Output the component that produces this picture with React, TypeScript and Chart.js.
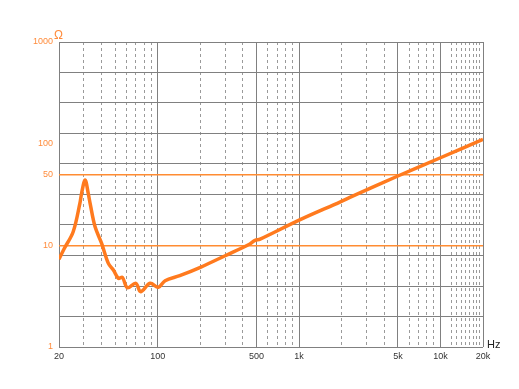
import { useEffect, useRef } from 'react';
import { Chart, registerables } from 'chart.js';

Chart.register(...registerables);

// Impedance curve (Hz, Ω)
const freqHz = [20, 21.8, 25.2, 28.1, 28.9, 30.6, 32.2, 33.2, 36, 40, 44.7, 48.5, 52.6, 56.2, 60.9, 69.9, 75.6, 88.2, 101, 112.7, 143, 200, 300, 448, 488, 530, 1000, 1959, 2285, 5000, 10000, 20000];
const impedanceOhm = [7.3, 9.3, 13.6, 25.9, 32.5, 43.9, 32.5, 25.9, 15.2, 10.5, 6.64, 5.72, 4.73, 4.84, 3.83, 4.23, 3.5, 4.23, 3.87, 4.49, 5.03, 6.08, 7.9, 10.3, 11.2, 11.5, 17.7, 26.8, 29.6, 48.1, 72.7, 110];

// Axis ticks
const xMajorTicks = [20, 100, 500, 1000, 5000, 10000, 20000];
const xTickLabels = ['20', '100', '500', '1k', '5k', '10k', '20k'];
const xMinorTicks = [30, 40, 50, 60, 70, 80, 90, 200, 300, 400, 600, 700, 800, 900, 2000, 3000, 4000, 6000, 7000, 8000, 9000, 12000, 13000, 14000, 15000, 16000, 17000, 18000, 19000];
const yGridTicks = [1, 1.995, 3.981, 7.943, 15.85, 31.62, 63.1, 125.9, 251.2, 501.2, 1000];
const yLabelTicks = [1, 10, 50, 100, 1000];
const yTickLabels = ['1', '10', '50', '100', '1000'];
const yHighlightTicks = [10, 50];

const ORANGE = 'rgb(255,122,30)';
const ORANGE_LINE = 'rgb(255,140,50)';
const ORANGE_TEXT = 'rgb(255,140,60)';
const FONT = 'Liberation Sans, Arial, sans-serif';

export default function App() {
  const canvasRef = useRef<HTMLCanvasElement | null>(null);

  useEffect(() => {
    document.body.style.margin = '0';
    const canvas = canvasRef.current;
    if (!canvas) return;

    const yAllTicks = Array.from(new Set([...yGridTicks, ...yLabelTicks])).sort((a, b) => a - b);

    const unitsPlugin = {
      id: 'units',
      afterDraw(chart: any) {
        const ctx = chart.ctx;
        ctx.save();
        ctx.textBaseline = 'alphabetic';
        ctx.textAlign = 'left';
        ctx.font = `12px ${FONT}`;
        ctx.fillStyle = ORANGE_TEXT;
        ctx.fillText('Ω', 54, 39);
        ctx.font = `11px ${FONT}`;
        ctx.fillStyle = '#222';
        ctx.fillText('Hz', 487, 348);
        ctx.restore();
      },
    };

    const chart = new Chart(canvas, {
      type: 'line',
      data: {
        datasets: [
          {
            data: freqHz.map((f, i) => ({ x: f, y: impedanceOhm[i] })),
            borderColor: ORANGE,
            borderWidth: 3.5,
            pointRadius: 0,
            tension: 0.35,
            fill: false,
          },
        ],
      },
      options: {
        animation: false,
        responsive: false,
        maintainAspectRatio: false,
        layout: { padding: { left: 0, top: 42, right: 36, bottom: 0 } },
        plugins: { legend: { display: false }, tooltip: { enabled: false } },
        scales: {
          x: {
            type: 'logarithmic',
            min: 20,
            max: 20000,
            position: 'bottom',
            afterBuildTicks: (s: any) => {
              s.ticks = xMajorTicks.map((v) => ({ value: v }));
            },
            afterFit: (s: any) => {
              s.height = 42;
            },
            ticks: {
              autoSkip: false,
              maxRotation: 0,
              padding: 4,
              color: '#333',
              font: { size: 9, family: FONT },
              callback: (v: any) => {
                const i = xMajorTicks.indexOf(Number(v));
                return i >= 0 ? xTickLabels[i] : '';
              },
            },
            grid: { color: '#808080', lineWidth: 1, drawTicks: false },
            border: { display: false },
          },
          x2: {
            type: 'logarithmic',
            min: 20,
            max: 20000,
            position: 'top',
            afterBuildTicks: (s: any) => {
              s.ticks = xMinorTicks.map((v) => ({ value: v }));
            },
            afterFit: (s: any) => {
              s.height = 0;
            },
            ticks: { display: false },
            grid: { color: '#9a9a9a', lineWidth: 1, drawTicks: false },
            border: { display: false, dash: [3, 3] },
          },
          y: {
            type: 'logarithmic',
            min: 1,
            max: 1000,
            afterBuildTicks: (s: any) => {
              s.ticks = yAllTicks.map((v) => ({ value: v }));
            },
            afterFit: (s: any) => {
              s.width = 59;
            },
            ticks: {
              autoSkip: false,
              padding: 6,
              color: ORANGE_TEXT,
              font: { size: 9, family: FONT },
              callback: (v: any) => {
                const i = yLabelTicks.indexOf(Number(v));
                return i >= 0 ? yTickLabels[i] : '';
              },
            },
            grid: {
              drawTicks: false,
              color: (ctx: any) => {
                const v = ctx.tick ? ctx.tick.value : 0;
                if (yHighlightTicks.includes(v)) return ORANGE_LINE;
                if (yGridTicks.includes(v)) return '#808080';
                return 'rgba(0,0,0,0)';
              },
              lineWidth: (ctx: any) => {
                const v = ctx.tick ? ctx.tick.value : 0;
                return yHighlightTicks.includes(v) ? 1.5 : 1;
              },
            },
            border: { display: false },
          },
        },
      } as any,
      plugins: [unitsPlugin],
    });

    return () => chart.destroy();
  }, []);

  return (
    <div style={{ width: 519, height: 389 }}>
      <canvas ref={canvasRef} width={519} height={389} />
    </div>
  );
}
